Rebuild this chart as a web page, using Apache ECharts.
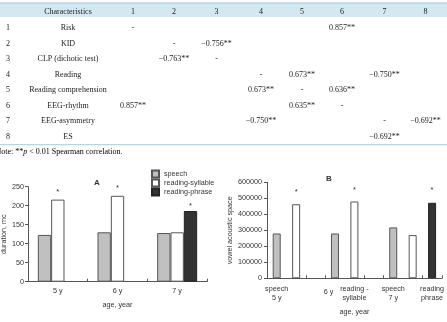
<!DOCTYPE html>
<html><head><meta charset="utf-8">
<script src="https://cdn.jsdelivr.net/npm/echarts@6/dist/echarts.min.js"></script>
<style>html,body{margin:0;padding:0;background:#fff}#c{width:447px;height:322px}</style>
</head><body><div id="c"></div>
<script>
// ---- Table data ----
const tableHeaders = ['Characteristics','1','2','3','4','5','6','7','8'];
const rowNumbers = ['1','2','3','4','5','6','7','8'];
const rowLabels = ['Risk','KID','CLP (dichotic test)','Reading','Reading comprehension','EEG-rhythm','EEG-asymmetry','ES'];
const tableCells = [
  ['-','','','','','0.857**','',''],
  ['','-','\u22120.756**','','','','',''],
  ['','\u22120.763**','-','','','','',''],
  ['','','','-','0.673**','','\u22120.750**',''],
  ['','','','0.673**','-','0.636**','',''],
  ['0.857**','','','','0.635**','-','',''],
  ['','','','\u22120.750**','','','-','\u22120.692**'],
  ['','','','','','','\u22120.692**','']
];
const noteText = ['Note: **', 'p', ' < 0.01 Spearman correlation.'];

// ---- Chart A data ----
const categoriesA = ['5 y','6 y','7 y'];
const speechA = [123, 130, 128];
const syllableA = [216, 226, 130];
const phraseA = ['-', '-', 186];
const starSyllableA = [true, true, false];
const starPhraseA = [false, false, true];
const yTicksA = {min:0, max:250, interval:50};

// ---- Chart B data ----
const categoriesB = ['speech\n5 y','','6 y','','reading -\nsyllable','','speech\n7 y','','reading\nphrase'];
const speechB = [280000,'-','-',280000,'-','-',318000,'-','-'];
const syllableB = ['-',463000,'-','-',480000,'-','-',270000,'-'];
const phraseB = ['-','-','-','-','-','-','-','-',472000];
const starSyllableB = [false,true,false,false,true,false,false,false,false];
const starPhraseB = [false,false,false,false,false,false,false,false,true];
const yTicksB = {min:0, max:600000, interval:100000};

const seriesNames = ['speech','reading-syllable','reading-phrase'];

// ---- styles ----
const styles = [
  {color:'#c0c0c0', borderColor:'#555', borderWidth:1},
  {color:'#ffffff', borderColor:'#555', borderWidth:1},
  {color:'#333333', borderColor:'#222', borderWidth:1}
];
const sans = 'Liberation Sans, Arial, sans-serif';
const serif = 'Liberation Serif, Times New Roman, serif';
const fs = 7.2;

function withStars(vals, flags, dist){
  return vals.map((v,i)=> flags[i] ? {value:v, label:{show:true, position:'top', distance:dist, formatter:'*', fontSize:7.5, color:'#333', fontFamily:sans}} : v);
}

// ---- table graphics ----
const colX = [8, 68, 133, 174, 216.5, 261, 302, 342, 384.5, 425.5];
const headerY = 11.5, rowY0 = 28.3, rowStep = 15.45;
const tfont = '8px ' + serif;
const g = [];
g.push({type:'rect', shape:{x:0,y:3,width:447,height:14}, style:{fill:'#d3e8f1'}, silent:true});
g.push({type:'rect', shape:{x:0,y:2.5,width:447,height:1}, style:{fill:'#9fc8d9'}, silent:true});
g.push({type:'rect', shape:{x:0,y:144,width:447,height:1.2}, style:{fill:'#b5d8dc'}, silent:true});
tableHeaders.forEach((h,i)=>{
  g.push({type:'text', x:colX[i+1], y:headerY, style:{text:h, font:tfont, fill:'#222', textAlign:'center', textVerticalAlign:'middle'}});
});
rowNumbers.forEach((n,r)=>{
  const y = rowY0 + r*rowStep;
  g.push({type:'text', x:colX[0], y:y, style:{text:n, font:tfont, fill:'#222', textAlign:'center', textVerticalAlign:'middle'}});
  g.push({type:'text', x:colX[1], y:y, style:{text:rowLabels[r], font:tfont, fill:'#222', textAlign:'center', textVerticalAlign:'middle'}});
  tableCells[r].forEach((c,j)=>{
    if(c) g.push({type:'text', x:colX[j+2], y:y, style:{text:c, font:tfont, fill:'#222', textAlign:'center', textVerticalAlign:'middle'}});
  });
});
g.push({type:'text', x:-4.5, y:152, style:{text:'{a|'+noteText[0]+'}{i|'+noteText[1]+'}{a|'+noteText[2]+'}', textVerticalAlign:'middle',
  rich:{a:{fontFamily:serif, fontSize:8, color:'#222'}, i:{fontFamily:serif, fontSize:8, fontStyle:'italic', color:'#222'}}}});
g.push({type:'text', x:97, y:183, style:{text:'A', font:'bold 8px '+sans, fill:'#333', textAlign:'center', textVerticalAlign:'middle'}});
g.push({type:'text', x:329, y:179, style:{text:'B', font:'bold 8px '+sans, fill:'#333', textAlign:'center', textVerticalAlign:'middle'}});

const axisLine = {show:true, lineStyle:{color:'#555', width:1}};
const lblStyle = {fontSize:fs, color:'#333', fontFamily:sans};
const plain = function(v){ return String(v); };

const option = {
  animation:false,
  graphic:g,
  legend:{orient:'vertical', left:151, top:169.5, itemWidth:7, itemHeight:7, itemGap:0, icon:'rect', data:seriesNames,
    textStyle:{fontSize:fs, color:'#333', fontFamily:sans, lineHeight:8.7}, padding:0},
  grid:[
    {left:26, right:240, top:186.7, bottom:40.3},
    {left:267, right:4, top:182.3, bottom:43.7}
  ],
  xAxis:[
    {type:'category', gridIndex:0, data:categoriesA, axisLine:axisLine,
      axisTick:{show:true, inside:true, length:3, lineStyle:{color:'#555'}},
      axisLabel:Object.assign({margin:6}, lblStyle),
      name:'age, year', nameLocation:'middle', nameGap:20, nameTextStyle:lblStyle},
    {type:'category', gridIndex:1, data:categoriesB, axisLine:axisLine,
      axisTick:{show:true, inside:true, length:3, lineStyle:{color:'#555'}, interval:function(i){return [2,3,5,6,8].indexOf(i)>=0;}},
      axisLabel:Object.assign({margin:6, interval:0, lineHeight:9,
        formatter:function(v,i){ return i===2 ? '{s|'+v+'}' : v; },
        rich:{s:{padding:[7,0,0,26], fontSize:fs, color:'#333', fontFamily:sans}}}, lblStyle),
      name:'age, year', nameLocation:'middle', nameGap:30, nameTextStyle:lblStyle}
  ],
  yAxis:[
    {type:'value', gridIndex:0, min:yTicksA.min, max:yTicksA.max, interval:yTicksA.interval,
      axisLine:axisLine, axisTick:{show:true, length:3, lineStyle:{color:'#555'}}, splitLine:{show:false},
      axisLabel:Object.assign({margin:4, formatter:plain}, lblStyle),
      name:'duration, mc', nameLocation:'middle', nameGap:20, nameRotate:90, nameTextStyle:lblStyle},
    {type:'value', gridIndex:1, min:yTicksB.min, max:yTicksB.max, interval:yTicksB.interval,
      axisLine:axisLine, axisTick:{show:true, length:3, lineStyle:{color:'#555'}}, splitLine:{show:false},
      axisLabel:Object.assign({margin:5, formatter:plain}, lblStyle),
      name:'vowel acoustic space', nameLocation:'middle', nameGap:33, nameRotate:90, nameTextStyle:lblStyle}
  ],
  series:[
    {name:seriesNames[0], type:'bar', xAxisIndex:0, yAxisIndex:0, data:speechA, itemStyle:styles[0], barGap:'0%', barCategoryGap:'33%'},
    {name:seriesNames[1], type:'bar', xAxisIndex:0, yAxisIndex:0, data:withStars(syllableA, starSyllableA, 4), itemStyle:styles[1], barGap:'0%', barCategoryGap:'33%'},
    {name:seriesNames[2], type:'bar', xAxisIndex:0, yAxisIndex:0, data:withStars(phraseA, starPhraseA, 1), itemStyle:styles[2], barGap:'0%', barCategoryGap:'33%'},
    {name:seriesNames[0], type:'bar', xAxisIndex:1, yAxisIndex:1, stack:'b', barWidth:8, data:speechB, itemStyle:styles[0]},
    {name:seriesNames[1], type:'bar', xAxisIndex:1, yAxisIndex:1, stack:'b', barWidth:8, data:withStars(syllableB, starSyllableB, 8), itemStyle:styles[1]},
    {name:seriesNames[2], type:'bar', xAxisIndex:1, yAxisIndex:1, stack:'b', barWidth:8, data:withStars(phraseB, starPhraseB, 9), itemStyle:styles[2]}
  ]
};
const chart = echarts.init(document.getElementById('c'), null, {renderer:'canvas'});
chart.setOption(option);
</script></body></html>
